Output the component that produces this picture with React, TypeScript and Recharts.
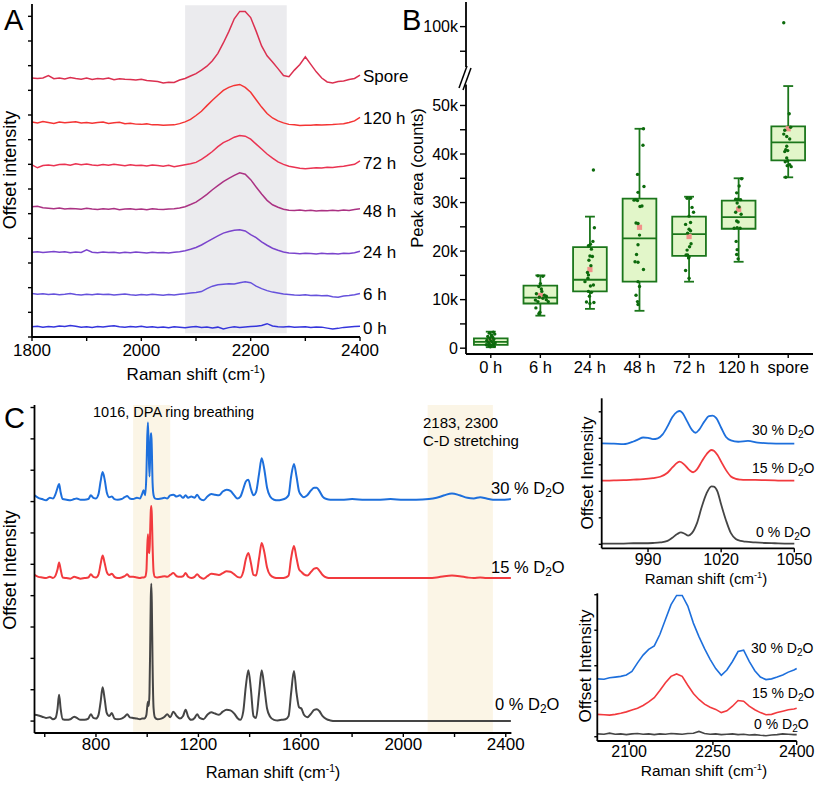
import React from "react";
import {
  LineChart,
  Line,
  XAxis,
  YAxis,
  ReferenceArea,
  ReferenceLine,
  ComposedChart,
  Scatter,
} from "recharts";

const FONT = '"Liberation Sans", Arial, Helvetica, sans-serif';

// ---------- panel A : C-D band over time ----------
const shiftA = [
  1800, 1810, 1820, 1830, 1840, 1850, 1860, 1870, 1880, 1890,
  1900, 1910, 1920, 1930, 1940, 1950, 1960, 1970, 1980, 1990,
  2000, 2010, 2020, 2030, 2040, 2050, 2060, 2070, 2080, 2090,
  2100, 2110, 2120, 2130, 2140, 2150, 2160, 2170, 2180, 2190,
  2200, 2210, 2220, 2230, 2240, 2250, 2260, 2270, 2280, 2290,
  2300, 2310, 2320, 2330, 2340, 2350, 2360, 2370, 2380, 2390,
  2400,
];
const a0h = [
  0.42, 0.44, 0.4, 0.43, 0.41, 0.45, 0.43, 0.47, 0.44, 0.4,
  0.42, 0.39, 0.43, 0.41, 0.44, 0.46, 0.42, 0.4, 0.43, 0.41,
  0.44, 0.4, 0.42, 0.39, 0.41, 0.38, 0.42, 0.4, 0.38, 0.41,
  0.43, 0.39, 0.41, 0.37, 0.4, 0.33, 0.38, 0.42, 0.39, 0.41,
  0.43, 0.44, 0.47, 0.54, 0.45, 0.42, 0.41, 0.43, 0.4, 0.41,
  0.42, 0.39, 0.41, 0.4, 0.36, 0.32, 0.35, 0.39, 0.41, 0.43,
  0.44,
];
const a6h = [
  1.76, 1.73, 1.75, 1.72, 1.74, 1.71, 1.73, 1.76, 1.72, 1.7,
  1.73, 1.71, 1.74, 1.72, 1.73, 1.7, 1.72, 1.74, 1.71, 1.69,
  1.72, 1.7, 1.73, 1.71, 1.69, 1.72, 1.7, 1.73, 1.75, 1.78,
  1.8, 1.84, 1.96, 2.06, 2.12, 2.14, 2.16, 2.15, 2.2, 2.24,
  2.2, 2.06, 1.96, 1.88, 1.82, 1.78, 1.74, 1.72, 1.7, 1.69,
  1.71, 1.68, 1.69, 1.67, 1.68, 1.63, 1.61, 1.66, 1.68, 1.71,
  1.76,
];
const a24h = [
  3.44, 3.46, 3.43, 3.45, 3.47, 3.44, 3.46, 3.42, 3.45, 3.43,
  3.53, 3.44, 3.42, 3.45, 3.43, 3.44, 3.41, 3.44, 3.42, 3.45,
  3.43, 3.41, 3.44, 3.42, 3.43, 3.41, 3.44, 3.46, 3.5, 3.56,
  3.63, 3.73, 3.86, 3.98, 4.1, 4.21, 4.28, 4.33, 4.35, 4.3,
  4.15, 4.03, 3.86, 3.72, 3.6, 3.52, 3.45, 3.41, 3.4, 3.38,
  3.4, 3.39, 3.37, 3.4, 3.38, 3.39, 3.37, 3.4, 3.39, 3.42,
  3.48,
];
const a48h = [
  5.28, 5.3, 5.24, 5.22, 5.2, 5.23, 5.19, 5.21, 5.2, 5.18,
  5.22, 5.19, 5.17, 5.2, 5.18, 5.21, 5.16, 5.19, 5.2, 5.17,
  5.19, 5.16, 5.2, 5.18, 5.17, 5.19, 5.2, 5.23, 5.28, 5.37,
  5.47, 5.62, 5.78, 5.97, 6.14, 6.3, 6.43, 6.55, 6.66, 6.6,
  6.38, 6.08, 5.8, 5.54, 5.36, 5.26, 5.18, 5.14, 5.13, 5.15,
  5.12, 5.14, 5.11, 5.13, 5.12, 5.14, 5.12, 5.15, 5.13, 5.17,
  5.2,
];
const a72h = [
  6.98, 6.86, 6.95, 6.97, 6.94, 6.99, 7.0, 6.96, 7.02, 6.98,
  7.01, 6.97, 6.95, 6.99, 6.96, 7.0, 6.97, 6.94, 6.98, 6.95,
  6.96, 6.93, 6.97, 6.95, 6.92, 6.96, 6.9, 6.94, 6.98, 7.02,
  7.08, 7.2, 7.35, 7.52, 7.72, 7.88, 7.98, 8.1, 8.17, 8.14,
  8.02, 7.82, 7.62, 7.42, 7.25, 7.1, 7.0, 6.92, 6.88, 6.84,
  6.82, 6.84, 6.86, 6.85, 6.88, 6.87, 6.9, 6.92, 6.96, 7.0,
  7.14,
];
const a120h = [
  8.72, 8.68, 8.74, 8.7, 8.66, 8.72, 8.69, 8.71, 8.73, 8.68,
  8.7, 8.67, 8.7, 8.72, 8.66, 8.69, 8.71, 8.65, 8.67, 8.63,
  8.62, 8.64, 8.6, 8.6, 8.58, 8.59, 8.6, 8.65, 8.72, 8.82,
  8.98, 9.15, 9.38, 9.6, 9.8, 10.0, 10.12, 10.2, 10.24, 10.12,
  9.92, 9.62, 9.32, 9.06, 8.88, 8.76, 8.68, 8.62, 8.6, 8.57,
  8.58, 8.58, 8.6, 8.59, 8.6, 8.61, 8.63, 8.65, 8.7, 8.76,
  8.9,
];
const aSpore = [
  10.5, 10.48, 10.5, 10.6, 10.47, 10.5, 10.46, 10.52, 10.48, 10.45,
  10.5, 10.44, 10.48, 10.46, 10.5, 10.43, 10.47, 10.45, 10.44, 10.42,
  10.45, 10.4, 10.38, 10.36, 10.3, 10.33, 10.32, 10.42, 10.48, 10.58,
  10.68, 10.82, 10.98, 11.2, 11.5, 11.92, 12.38, 12.9, 13.2, 13.2,
  12.95, 12.4, 11.8, 11.4, 11.15, 10.88, 10.6, 10.55, 10.82, 11.05,
  11.36, 11.05, 10.75, 10.5, 10.34, 10.3, 10.36, 10.38, 10.44, 10.48,
  10.62,
];
const labelsA = ["0 h", "6 h", "24 h", "48 h", "72 h", "120 h", "Spore"];
const valuesA = [a0h, a6h, a24h, a48h, a72h, a120h, aSpore];
const colorsA = ["#3535dc", "#6652dc", "#7a44cc", "#ab3283", "#ea3352", "#f43434", "#db3050"];
const ticksAX = [1800, 1900, 2000, 2100, 2200, 2300, 2400];
const ticksAY = [0, 1, 2, 3, 4, 5, 6, 7, 8, 9, 10, 11, 12, 13];

// ---------- panel B : peak area box plot ----------
const groupsB = ["0 h", "6 h", "24 h", "48 h", "72 h", "120 h", "spore"];
const q1B = [0.7, 9.2, 11.7, 13.7, 19.0, 24.6, 38.7];
const medB = [1.3, 10.4, 14.1, 22.6, 23.5, 27.0, 42.4];
const q3B = [2.0, 12.9, 20.8, 30.8, 27.1, 30.4, 45.7];
const loB = [0.2, 6.7, 8.1, 7.7, 13.7, 17.8, 35.2];
const hiB = [3.4, 15.0, 27.1, 45.2, 31.2, 35.0, 54.0];
const meanB = [1.6, 10.85, 16.2, 24.9, 23.0, 28.6, 45.2];
// individual cells, in k counts, with their horizontal scatter in category units
const ptsB = [
  [3.3, 3.1, 2.9, 2.6, 2.4, 2.2, 2.0, 1.8, 1.6, 1.5, 1.3, 1.2, 1.1, 0.9, 0.8, 0.7, 0.6, 0.5, 0.4, 0.3],
  [14.9, 14.8, 13.3, 12.7, 12.2, 11.7, 11.2, 10.9, 10.7, 10.5, 10.3, 10.0, 9.9, 9.6, 9.6, 8.3, 7.4, 7.1],
  [36.7, 24.8, 22.0, 21.4, 21.1, 20.4, 19.0, 18.9, 18.1, 17.0, 15.6, 15.1, 14.4, 13.7, 13.0, 12.8, 11.7, 11.5, 10.7, 9.5, 9.4, 9.2],
  [45.2, 41.8, 35.8, 33.3, 32.1, 30.5, 30.4, 30.6, 29.2, 29.3, 25.8, 25.7, 23.3, 21.3, 19.3, 17.8, 17.7, 16.2, 13.7, 12.7, 10.9, 9.6, 9.0],
  [30.9, 30.9, 29.0, 28.0, 27.2, 25.9, 25.5, 24.5, 24.2, 23.7, 21.5, 20.9, 20.2, 19.2, 18.8, 19.2, 18.6, 16.0, 14.4],
  [34.9, 33.4, 32.0, 30.7, 30.7, 30.6, 29.9, 29.1, 28.0, 27.6, 26.2, 26.0, 24.7, 24.8, 24.7, 22.0, 20.3, 19.3, 18.4],
  [100.8, 48.3, 44.9, 45.5, 44.1, 43.6, 43.1, 41.6, 40.9, 40.7, 40.5, 39.2, 38.6, 38.4, 37.8, 37.6, 37.4, 35.2],
];
const jitB = [
  [0.05, -0.03, 0.08, 0.02, -0.06, 0.04, -0.02, 0.06, -0.08, 0.0, 0.03, -0.05, 0.09, -0.03, 0.05, -0.09, 0.02, -0.04, 0.07, -0.01],
  [-0.05, 0.05, 0.0, -0.03, 0.02, 0.03, -0.08, 0.08, 0.12, -0.02, 0.05, 0.12, -0.1, -0.05, 0.16, -0.09, -0.01, -0.03],
  [0.07, 0.09, 0.06, 0.01, -0.03, 0.03, 0.0, 0.05, -0.02, 0.02, -0.05, -0.03, -0.04, -0.1, 0.07, 0.01, -0.03, 0.03, -0.01, -0.07, 0.08, 0.0],
  [0.08, 0.07, -0.04, 0.09, -0.03, -0.11, -0.04, -0.07, 0.01, 0.05, -0.07, -0.03, 0.0, -0.03, -0.06, -0.09, -0.03, 0.08, -0.03, 0.0, -0.07, -0.04, -0.03],
  [0.03, -0.04, 0.06, 0.09, 0.0, 0.03, -0.07, 0.0, 0.03, -0.03, 0.04, 0.01, -0.04, -0.03, 0.0, -0.06, -0.01, -0.07, 0.0],
  [0.06, 0.01, -0.04, -0.06, -0.01, 0.04, -0.03, 0.01, -0.06, 0.05, -0.04, -0.01, -0.09, -0.03, 0.03, -0.05, -0.03, -0.04, -0.01],
  [-0.09, 0.02, -0.07, 0.05, -0.09, -0.03, 0.03, -0.03, -0.05, -0.01, -0.07, -0.03, -0.01, -0.06, 0.03, -0.02, 0.06, -0.05],
];
const ticksBY = [0, 5, 10, 15, 20, 25, 30, 35, 40, 45, 50];
const ticksBTop = [95, 100];

// ---------- panel C : full spectra ----------
const shiftC = [
  560, 575, 590, 605, 620, 632, 642, 650, 656, 662,
  670, 685, 700, 715, 725, 740, 755, 770, 780, 790,
  800, 810, 818, 826, 834, 842, 852, 862, 872, 885,
  900, 912, 922, 932, 945, 960, 972, 980, 986, 992,
  997, 1000, 1003, 1006, 1009, 1012, 1014, 1016, 1018, 1021,
  1025, 1030, 1040, 1055, 1068, 1078, 1090, 1102, 1115, 1128,
  1140, 1150, 1160, 1172, 1185, 1195, 1205, 1220, 1235, 1250,
  1265, 1280, 1295, 1310, 1325, 1340, 1352, 1364, 1375, 1385,
  1395, 1405, 1415, 1425, 1437, 1447, 1457, 1468, 1480, 1495,
  1510, 1525, 1540, 1552, 1562, 1573, 1583, 1593, 1602, 1612,
  1625, 1640, 1652, 1662, 1672, 1685, 1700, 1715, 1735, 1760,
  1800, 1850, 1900, 1950, 2000, 2050, 2100, 2130, 2160, 2190,
  2220, 2250, 2275, 2300, 2325, 2350, 2380, 2420,
];
const c0 = [
  0.1, 0.09, 0.07, 0.05, 0.06, 0.03, 0.05, 0.2, 0.42, 0.2,
  0.03, 0.02, 0.03, 0.07, 0.05, 0.02, 0.02, 0.04, 0.11, 0.05,
  0.04, 0.1, 0.3, 0.54, 0.35, 0.13, 0.08, 0.13, 0.04, 0.03,
  0.04, 0.07, 0.11, 0.06, 0.05, 0.04, 0.03, 0.04, 0.04, 0.05,
  0.1, 0.22, 0.31, 0.24, 0.45, 1.3, 1.95, 2.19, 1.9, 0.9,
  0.2, 0.06, 0.03, 0.04, 0.07, 0.11, 0.06, 0.15, 0.08, 0.04,
  0.08, 0.18, 0.07, 0.02, 0.05, 0.11, 0.05, 0.03, 0.1, 0.14,
  0.12, 0.1, 0.15, 0.18, 0.17, 0.12, 0.05, 0.02, 0.15, 0.55,
  0.81, 0.5, 0.08, 0.05, 0.45, 0.81, 0.55, 0.2, 0.07, 0.02,
  0.01, 0.02, 0.03, 0.08, 0.45, 0.8, 0.45, 0.22, 0.2, 0.1,
  0.06, 0.12, 0.18, 0.19, 0.16, 0.08, 0.03, 0.01, 0.0, 0.0,
  0.0, 0.0, 0.0, 0.0, 0.0, 0.0, 0.0, 0.0, 0.0, 0.0,
  0.0, 0.0, 0.0, 0.0, 0.0, 0.0, 0.0, 0.0,
];
const c15 = [
  2.33, 2.3, 2.29, 2.28, 2.3, 2.28, 2.32, 2.42, 2.53, 2.42,
  2.29, 2.28, 2.27, 2.3, 2.29, 2.27, 2.28, 2.29, 2.34, 2.3,
  2.29, 2.34, 2.5, 2.64, 2.52, 2.38, 2.33, 2.35, 2.3, 2.28,
  2.29, 2.31, 2.34, 2.3, 2.3, 2.29, 2.28, 2.29, 2.29, 2.3,
  2.4, 2.75, 2.98, 2.7, 2.68, 3.1, 3.35, 3.43, 3.3, 2.8,
  2.38, 2.3, 2.29, 2.3, 2.31, 2.3, 2.33, 2.36, 2.31, 2.3,
  2.31, 2.36, 2.3, 2.28, 2.3, 2.34, 2.3, 2.27, 2.31, 2.35,
  2.34, 2.33, 2.36, 2.39, 2.38, 2.34, 2.3, 2.29, 2.38, 2.58,
  2.68, 2.52, 2.33, 2.32, 2.6, 2.84, 2.7, 2.45, 2.33, 2.29,
  2.28, 2.28, 2.29, 2.32, 2.6, 2.79, 2.6, 2.42, 2.38, 2.34,
  2.32, 2.38, 2.43, 2.44, 2.4, 2.33, 2.29, 2.28, 2.28, 2.28,
  2.28, 2.28, 2.28, 2.28, 2.28, 2.28, 2.28, 2.29, 2.31, 2.32,
  2.31, 2.29, 2.28, 2.29, 2.28, 2.28, 2.28, 2.28,
];
const c30 = [
  3.6, 3.56, 3.54, 3.52, 3.56, 3.55, 3.62, 3.72, 3.78, 3.65,
  3.54, 3.53, 3.52, 3.54, 3.55, 3.53, 3.53, 3.54, 3.6, 3.56,
  3.55, 3.62, 3.82, 3.97, 3.85, 3.65, 3.57, 3.58, 3.54, 3.53,
  3.54, 3.57, 3.59, 3.55, 3.54, 3.56, 3.55, 3.62, 3.68, 3.6,
  3.95, 4.5, 4.76, 4.3, 3.9, 4.3, 4.55, 4.59, 4.35, 3.8,
  3.6, 3.55, 3.54, 3.55, 3.56, 3.55, 3.6, 3.61, 3.58, 3.6,
  3.56, 3.6, 3.56, 3.58, 3.56, 3.61, 3.55, 3.52, 3.58, 3.62,
  3.61, 3.6, 3.66, 3.69, 3.67, 3.6, 3.55, 3.58, 3.7, 3.82,
  3.85, 3.7, 3.6, 3.65, 3.95, 4.19, 4.02, 3.72, 3.58, 3.53,
  3.52, 3.53, 3.55, 3.6, 3.9, 4.1, 3.9, 3.66, 3.6, 3.57,
  3.6, 3.68, 3.72, 3.72, 3.67, 3.58, 3.54, 3.53, 3.53, 3.53,
  3.54, 3.53, 3.53, 3.54, 3.53, 3.53, 3.54, 3.56, 3.6, 3.63,
  3.6, 3.56, 3.55, 3.57, 3.55, 3.53, 3.53, 3.54,
];
const colorsC = ["#454545", "#f23a3e", "#1d6fdc"];
const ticksCX = [600, 800, 1000, 1200, 1400, 1600, 1800, 2000, 2200, 2400];
const ticksCY = [0, 0.5, 1, 1.5, 2, 2.5, 3, 3.5, 4, 4.5, 5];

// ---------- inset : DPA ring breathing ----------
const dpaX0 = [971, 976, 980, 984, 988, 992, 995, 998, 1000, 1002, 1003.5, 1005, 1006.5, 1008, 1010, 1012, 1014, 1016, 1017, 1018.5, 1020, 1022, 1024, 1026, 1028, 1030, 1034, 1038, 1042, 1046, 1050];
const dpaY0 = [0.03, 0.03, 0.03, 0.04, 0.04, 0.05, 0.07, 0.13, 0.25, 0.39, 0.45, 0.4, 0.33, 0.42, 0.78, 1.4, 1.92, 2.19, 2.18, 1.99, 1.5, 0.9, 0.42, 0.2, 0.13, 0.1, 0.07, 0.05, 0.04, 0.03, 0.03];
const dpaX15 = [971, 976, 980, 984, 988, 992, 995, 998, 1000, 1002, 1003, 1005, 1007, 1008.5, 1010, 1012, 1014, 1016, 1017, 1018.5, 1020, 1022, 1024, 1026, 1028, 1030, 1034, 1038, 1042, 1046, 1050];
const dpaY15 = [2.4, 2.41, 2.42, 2.44, 2.46, 2.5, 2.55, 2.7, 2.9, 3.08, 3.12, 3.0, 2.8, 2.72, 2.82, 3.12, 3.4, 3.56, 3.53, 3.37, 3.12, 2.8, 2.56, 2.47, 2.44, 2.43, 2.43, 2.42, 2.41, 2.4, 2.4];
const dpaX30 = [971, 976, 980, 984, 986, 988, 990, 992, 994, 996, 998, 1000, 1002, 1003, 1004, 1006, 1008, 1009.5, 1011, 1013, 1015, 1016.5, 1018, 1020, 1022, 1024, 1027, 1031, 1035, 1040, 1045, 1050];
const dpaY30 = [3.81, 3.8, 3.78, 3.88, 3.96, 4.03, 4.02, 3.97, 4.0, 4.15, 4.45, 4.8, 5.0, 5.03, 4.97, 4.65, 4.32, 4.21, 4.33, 4.62, 4.84, 4.86, 4.76, 4.4, 4.05, 3.92, 3.87, 3.9, 3.84, 3.81, 3.8, 3.8];

// ---------- inset : C-D stretching ----------
const cdX = [2043, 2055, 2065, 2075, 2085, 2095, 2105, 2115, 2125, 2135, 2145, 2155, 2165, 2175, 2185, 2195, 2205, 2215, 2225, 2235, 2245, 2255, 2265, 2275, 2285, 2295, 2305, 2315, 2325, 2335, 2345, 2355, 2365, 2375, 2385, 2395, 2400];
const cd0 = [0.08, 0.07, 0.1, 0.07, 0.08, 0.06, 0.08, 0.09, 0.07, 0.08, 0.06, 0.08, 0.07, 0.09, 0.08, 0.07, 0.09, 0.1, 0.15, 0.09, 0.07, 0.08, 0.06, 0.07, 0.08, 0.06, 0.07, 0.05, 0.06, 0.04, 0.03, 0.05, 0.06, 0.08, 0.07, 0.06, 0.06];
const cd15 = [0.63, 0.62, 0.61, 0.63, 0.66, 0.7, 0.75, 0.8, 0.88, 0.98, 1.1, 1.3, 1.52, 1.7, 1.77, 1.7, 1.45, 1.22, 1.05, 0.92, 0.83, 0.77, 0.68, 0.73, 0.86, 1.02, 1.0, 0.86, 0.76, 0.68, 0.62, 0.63, 0.68, 0.72, 0.76, 0.78, 0.8];
const cd30 = [1.63, 1.62, 1.66, 1.68, 1.7, 1.74, 1.84, 2.08, 2.3, 2.46, 2.56, 2.88, 3.3, 3.72, 3.98, 3.98, 3.68, 3.2, 2.82, 2.48, 2.18, 1.92, 1.73, 1.88, 2.12, 2.4, 2.44, 2.12, 1.86, 1.68, 1.61, 1.63, 1.68, 1.74, 1.82, 1.88, 1.92];

// ---------- helpers ----------
const axisLine = { stroke: "#000", strokeWidth: 1.8 };
const tickLine = { stroke: "#000", strokeWidth: 1.4 };
const tickFont = (size: number) => ({ fontSize: size, fill: "#000", fontFamily: FONT });
const noLabel = () => "";

const subStyle: React.CSSProperties = { fontSize: "0.72em", verticalAlign: "-0.28em", lineHeight: 0 };
const supStyle: React.CSSProperties = { fontSize: "0.62em", verticalAlign: "0.6em", lineHeight: 0 };

const D2O = ({ pct }: { pct: string }) => (
  <>
    {pct} % D<sub style={subStyle}>2</sub>O
  </>
);
const ShiftTitle = () => (
  <>
    Raman shift (cm<sup style={supStyle}>-1</sup>)
  </>
);

type TxtProps = {
  x: number;
  y: number;
  size: number;
  rotate?: boolean;
  center?: boolean;
  children: React.ReactNode;
};
const Txt = ({ x, y, size, rotate, center, children }: TxtProps) => (
  <div
    style={{
      position: "absolute",
      left: x,
      top: y,
      fontSize: size,
      fontFamily: FONT,
      lineHeight: 1,
      whiteSpace: "nowrap",
      color: "#000",
      transform: rotate
        ? "translate(-50%, -50%) rotate(-90deg)"
        : center
        ? "translate(-50%, -50%)"
        : "translateY(-50%)",
    }}
  >
    {children}
  </div>
);

const pos = (left: number, top: number): React.CSSProperties => ({ position: "absolute", left, top });

const PanelA = () => {
  const data = shiftA.map((x, i) => {
    const row: Record<string, number> = { x };
    valuesA.forEach((v, k) => (row["s" + k] = v[i]));
    return row;
  });
  return (
    <div style={pos(0, 0)}>
      <LineChart width={400} height={380} data={data} margin={{ top: 4, right: 40, bottom: 23, left: 0 }}>
        <XAxis
          dataKey="x"
          type="number"
          domain={[1800, 2400]}
          ticks={ticksAX}
          interval={0}
          tickFormatter={(v: number) => (v % 200 === 0 ? String(v) : "")}
          height={20}
          tickSize={4}
          tickMargin={3}
          axisLine={axisLine}
          tickLine={tickLine}
          tick={tickFont(17)}
        />
        <YAxis
          type="number"
          domain={[0, 13.5]}
          ticks={ticksAY}
          interval={0}
          width={32}
          tickFormatter={noLabel}
          tickSize={4}
          axisLine={axisLine}
          tickLine={tickLine}
        />
        {valuesA.map((_, k) => (
          <Line
            key={k}
            dataKey={"s" + k}
            type="linear"
            stroke={colorsA[k]}
            strokeWidth={1.5}
            dot={false}
            isAnimationActive={false}
          />
        ))}
        <ReferenceArea x1={2080} x2={2266} y1={0.15} y2={13.45} fill="#c8c8d0" fillOpacity={0.36} stroke="none" />
      </LineChart>
    </div>
  );
};

const boxStroke = "#1b761b";
const boxFill = "#e2f6c9";
const dotColor = "#0c6a0c";
const meanColor = "#f2918a";

const dotShape = (p: any) => <circle cx={p.cx} cy={p.cy} r={1.7} fill={dotColor} />;
const meanShape = (p: any) => <rect x={p.cx - 2.6} y={p.cy - 2.6} width={5.2} height={5.2} fill={meanColor} />;

const PanelB = () => {
  const lowerMax = 54.3;
  const pts: { x: number; y: number }[] = [];
  ptsB.forEach((vals, g) => vals.forEach((v, j) => pts.push({ x: g + jitB[g][j], y: v })));
  const lowPts = pts.filter((p) => p.y <= lowerMax);
  const highPts = pts.filter((p) => p.y > lowerMax);
  const means = meanB.map((m, g) => ({ x: g, y: m }));
  const hw = 0.34;
  const cap = 0.1;
  return (
    <>
      <div style={pos(400, 0)}>
        <ComposedChart width={417} height={67} margin={{ top: 2, right: 4, bottom: 0, left: 0 }}>
          <XAxis dataKey="x" type="number" domain={[-0.5, 6.5]} hide />
          <YAxis
            dataKey="y"
            type="number"
            domain={[91.8, 105]}
            ticks={ticksBTop}
            interval={0}
            width={66}
            tickFormatter={(v: number) => (v === 100 ? "100k" : "")}
            tickSize={6}
            tickMargin={2}
            axisLine={axisLine}
            tickLine={tickLine}
            tick={tickFont(16)}
          />
          <Scatter data={highPts} dataKey="y" shape={dotShape} isAnimationActive={false} />
        </ComposedChart>
      </div>
      <div style={pos(400, 80)}>
        <ComposedChart width={417} height={305} margin={{ top: 4.6, right: 4, bottom: 3, left: 0 }}>
          <XAxis
            dataKey="x"
            type="number"
            domain={[-0.5, 6.5]}
            ticks={groupsB.map((_, i) => i)}
            interval={0}
            tickFormatter={(v: number) => groupsB[v] ?? ""}
            height={28}
            tickSize={4}
            tickMargin={3}
            axisLine={axisLine}
            tickLine={tickLine}
            tick={tickFont(16.5)}
          />
          <YAxis
            dataKey="y"
            type="number"
            domain={[-1.2, lowerMax]}
            ticks={ticksBY}
            interval={0}
            width={66}
            tickFormatter={(v: number) => (v % 10 === 0 ? (v === 0 ? "0" : v + "k") : "")}
            tickSize={6}
            tickMargin={2}
            axisLine={axisLine}
            tickLine={tickLine}
            tick={tickFont(16)}
          />
          {groupsB.map((_, g) => (
            <ReferenceArea
              key={"box" + g}
              x1={g - hw}
              x2={g + hw}
              y1={q1B[g]}
              y2={q3B[g]}
              fill={boxFill}
              fillOpacity={1}
              stroke={boxStroke}
              strokeWidth={1.8}
            />
          ))}
          {groupsB.map((_, g) => (
            <ReferenceLine key={"med" + g} segment={[{ x: g - hw, y: medB[g] }, { x: g + hw, y: medB[g] }]} stroke={boxStroke} strokeWidth={1.8} />
          ))}
          {groupsB.map((_, g) => (
            <ReferenceLine key={"wh" + g} segment={[{ x: g, y: q3B[g] }, { x: g, y: hiB[g] }]} stroke={boxStroke} strokeWidth={1.8} />
          ))}
          {groupsB.map((_, g) => (
            <ReferenceLine key={"wl" + g} segment={[{ x: g, y: q1B[g] }, { x: g, y: loB[g] }]} stroke={boxStroke} strokeWidth={1.8} />
          ))}
          {groupsB.map((_, g) => (
            <ReferenceLine key={"ch" + g} segment={[{ x: g - cap, y: hiB[g] }, { x: g + cap, y: hiB[g] }]} stroke={boxStroke} strokeWidth={1.8} />
          ))}
          {groupsB.map((_, g) => (
            <ReferenceLine key={"cl" + g} segment={[{ x: g - cap, y: loB[g] }, { x: g + cap, y: loB[g] }]} stroke={boxStroke} strokeWidth={1.8} />
          ))}
          <Scatter data={means} dataKey="y" shape={meanShape} isAnimationActive={false} />
          <Scatter data={lowPts} dataKey="y" shape={dotShape} isAnimationActive={false} />
        </ComposedChart>
      </div>
      <svg style={{ position: "absolute", left: 455, top: 62, overflow: "visible" }} width={24} height={32}>
        <line x1={4} y1={26} x2={12} y2={4} stroke="#000" strokeWidth={1.5} />
        <line x1={8} y1={28} x2={16} y2={6} stroke="#000" strokeWidth={1.5} />
      </svg>
    </>
  );
};

const PanelC = () => {
  const data = shiftC.map((x, i) => ({ x, c0: c0[i], c15: c15[i], c30: c30[i] }));
  return (
    <div style={pos(0, 400)}>
      <LineChart width={560} height={385} data={data} margin={{ top: 5, right: 48.6, bottom: 22, left: 0 }}>
        <XAxis
          dataKey="x"
          type="number"
          domain={[560, 2422]}
          ticks={ticksCX}
          interval={0}
          tickFormatter={(v: number) => (v % 400 === 0 ? String(v) : "")}
          height={30}
          tickSize={4}
          tickMargin={1}
          axisLine={axisLine}
          tickLine={tickLine}
          tick={tickFont(17)}
        />
        <YAxis
          type="number"
          domain={[-0.19, 5.04]}
          ticks={ticksCY}
          interval={0}
          width={34.5}
          tickFormatter={noLabel}
          tickSize={4}
          axisLine={axisLine}
          tickLine={tickLine}
        />
        <Line dataKey="c0" type="monotone" stroke={colorsC[0]} strokeWidth={2} dot={false} isAnimationActive={false} />
        <Line dataKey="c15" type="monotone" stroke={colorsC[1]} strokeWidth={2} dot={false} isAnimationActive={false} />
        <Line dataKey="c30" type="monotone" stroke={colorsC[2]} strokeWidth={2} dot={false} isAnimationActive={false} />
        <ReferenceArea x1={945} x2={1090} y1={-0.17} y2={5.04} fill="#f0dba6" fillOpacity={0.28} stroke="none" />
        <ReferenceArea x1={2095} x2={2350} y1={-0.17} y2={5.04} fill="#f0dba6" fillOpacity={0.28} stroke="none" />
      </LineChart>
    </div>
  );
};

const zip = (xs: number[], ys: number[]) => xs.map((x, i) => ({ x, y: ys[i] }));

const InsetDPA = () => (
  <div style={pos(560, 390)}>
    <LineChart width={257} height={188} margin={{ top: 8.3, right: 22.7, bottom: 4.7, left: 0 }}>
      <XAxis
        dataKey="x"
        type="number"
        domain={[971, 1050]}
        ticks={[990, 1020, 1050]}
        interval={0}
        height={25}
        tickSize={4}
        tickMargin={1}
        axisLine={axisLine}
        tickLine={tickLine}
        tick={tickFont(16)}
      />
      <YAxis
        type="number"
        domain={[-0.15, 5.51]}
        ticks={[0, 1, 2, 3, 4, 5]}
        interval={0}
        width={41.7}
        tickFormatter={noLabel}
        tickSize={3}
        axisLine={axisLine}
        tickLine={tickLine}
      />
      <Line data={zip(dpaX0, dpaY0)} dataKey="y" type="monotone" stroke={colorsC[0]} strokeWidth={1.8} dot={false} isAnimationActive={false} />
      <Line data={zip(dpaX15, dpaY15)} dataKey="y" type="monotone" stroke={colorsC[1]} strokeWidth={1.8} dot={false} isAnimationActive={false} />
      <Line data={zip(dpaX30, dpaY30)} dataKey="y" type="monotone" stroke={colorsC[2]} strokeWidth={1.8} dot={false} isAnimationActive={false} />
    </LineChart>
  </div>
);

const InsetCD = () => (
  <div style={pos(560, 585)}>
    <LineChart width={257} height={200} margin={{ top: 8.3, right: 20.3, bottom: 14, left: 0 }}>
      <XAxis
        dataKey="x"
        type="number"
        domain={[2043, 2400]}
        ticks={[2100, 2250, 2400]}
        interval={0}
        height={30}
        tickSize={4}
        tickMargin={1}
        axisLine={axisLine}
        tickLine={tickLine}
        tick={tickFont(16)}
      />
      <YAxis
        type="number"
        domain={[-0.12, 4.04]}
        ticks={[0, 1, 2, 3, 4]}
        interval={0}
        width={37.3}
        tickFormatter={noLabel}
        tickSize={3}
        axisLine={axisLine}
        tickLine={tickLine}
      />
      <Line data={zip(cdX, cd0)} dataKey="y" stroke={colorsC[0]} strokeWidth={1.6} dot={false} isAnimationActive={false} />
      <Line data={zip(cdX, cd15)} dataKey="y" stroke={colorsC[1]} strokeWidth={1.6} dot={false} isAnimationActive={false} />
      <Line data={zip(cdX, cd30)} dataKey="y" stroke={colorsC[2]} strokeWidth={1.6} dot={false} isAnimationActive={false} />
    </LineChart>
  </div>
);

export default function App() {
  const labelYA = [328, 294, 252, 211, 163, 118, 76];
  return (
    <div style={{ position: "absolute", left: 0, top: 0, width: 817, height: 785, background: "#fff", overflow: "hidden" }}>
      <PanelA />
      <PanelB />
      <PanelC />
      <InsetDPA />
      <InsetCD />

      {/* panel A text */}
      <Txt x={4} y={20} size={29}>A</Txt>
      <Txt x={10} y={170} size={18} rotate>Offset intensity</Txt>
      <Txt x={196} y={374} size={17} center><ShiftTitle /></Txt>
      {labelsA.map((l, k) => (
        <Txt key={l} x={363} y={labelYA[k]} size={17}>{l}</Txt>
      ))}

      {/* panel B text */}
      <Txt x={402} y={20} size={29}>B</Txt>
      <Txt x={417} y={178} size={16.5} rotate>Peak area (counts)</Txt>

      {/* panel C text */}
      <Txt x={4} y={418} size={29}>C</Txt>
      <Txt x={10} y={570} size={18} rotate>Offset Intensity</Txt>
      <Txt x={273} y={772} size={16.5} center><ShiftTitle /></Txt>
      <Txt x={93} y={412} size={14.5}>1016, DPA ring breathing</Txt>
      <Txt x={423} y={422} size={15}>2183, 2300</Txt>
      <Txt x={423} y={440} size={15}>C-D stretching</Txt>
      <Txt x={491} y={488} size={16.5}><D2O pct="30" /></Txt>
      <Txt x={491} y={567} size={16.5}><D2O pct="15" /></Txt>
      <Txt x={495} y={704} size={16.5}><D2O pct="0" /></Txt>

      {/* inset DPA text */}
      <Txt x={587} y={473} size={17} rotate>Offset Intensity</Txt>
      <Txt x={706} y={578} size={15} center><ShiftTitle /></Txt>
      <Txt x={752} y={430} size={14}><D2O pct="30" /></Txt>
      <Txt x={752} y={468} size={14}><D2O pct="15" /></Txt>
      <Txt x={756} y={532} size={14}><D2O pct="0" /></Txt>

      {/* inset C-D text */}
      <Txt x={585} y={666} size={17} rotate>Offset Intensity</Txt>
      <Txt x={704} y={771} size={15.5} center><ShiftTitle /></Txt>
      <Txt x={751} y={648} size={14}><D2O pct="30" /></Txt>
      <Txt x={752} y={693} size={14}><D2O pct="15" /></Txt>
      <Txt x={754} y={724} size={14}><D2O pct="0" /></Txt>
    </div>
  );
}
